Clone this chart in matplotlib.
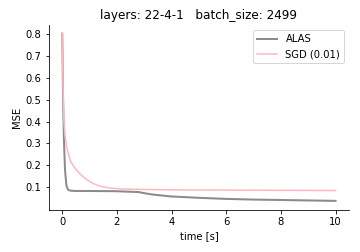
import numpy as np
import matplotlib
matplotlib.use('Agg')
import matplotlib.pyplot as plt

# ALAS run
alas_t = [0, 0.03, 0.06, 0.1, 0.15, 0.2, 0.25, 0.35, 0.5, 1, 2, 2.8, 3.0, 3.3, 3.6, 4, 5, 6, 7, 8, 9, 10]
alas_mse = [0.80, 0.50, 0.32, 0.18, 0.11, 0.092, 0.087, 0.085, 0.084, 0.084, 0.083, 0.079, 0.074,
            0.068, 0.064, 0.059, 0.053, 0.048, 0.045, 0.043, 0.041, 0.039]
alas_std = [0.0, 0.01, 0.01, 0.008, 0.005, 0.004, 0.003, 0.003, 0.003, 0.003, 0.003, 0.003, 0.003,
            0.003, 0.003, 0.003, 0.003, 0.003, 0.003, 0.003, 0.003, 0.003]

# SGD run
sgd_t = [0, 0.03, 0.06, 0.1, 0.15, 0.23, 0.3, 0.45, 0.66, 0.9, 1.14, 1.4, 1.76, 2.2, 3, 4, 6, 8, 10]
sgd_mse = [0.80, 0.55, 0.40, 0.34, 0.29, 0.25, 0.22, 0.19, 0.16, 0.135, 0.117, 0.105, 0.097,
           0.093, 0.091, 0.089, 0.088, 0.087, 0.086]

fig = plt.figure(figsize=(5, 3.5), dpi=72)
ax = fig.add_axes([0.135, 0.167, 0.835, 0.733])

a_t = np.array(alas_t)
a_m = np.array(alas_mse)
a_s = np.array(alas_std)
ax.plot(a_t, a_m, color='gray', lw=2, alpha=0.9, label='ALAS')
ax.fill_between(a_t, a_m - a_s, a_m + a_s, color='gray', alpha=0.15, lw=0)
ax.plot(sgd_t, sgd_mse, color='lightpink', lw=1.5, label='SGD (0.01)')

ax.set_xlabel('time [s]')
ax.set_ylabel('MSE')
ax.set_title('layers: 22-4-1   batch_size: 2499')
ax.set_yticks([0.1, 0.2, 0.3, 0.4, 0.5, 0.6, 0.7, 0.8])
ax.spines['top'].set_visible(False)
ax.spines['right'].set_visible(False)
ax.legend(loc='upper right')

plt.savefig('out.png', dpi=72)
